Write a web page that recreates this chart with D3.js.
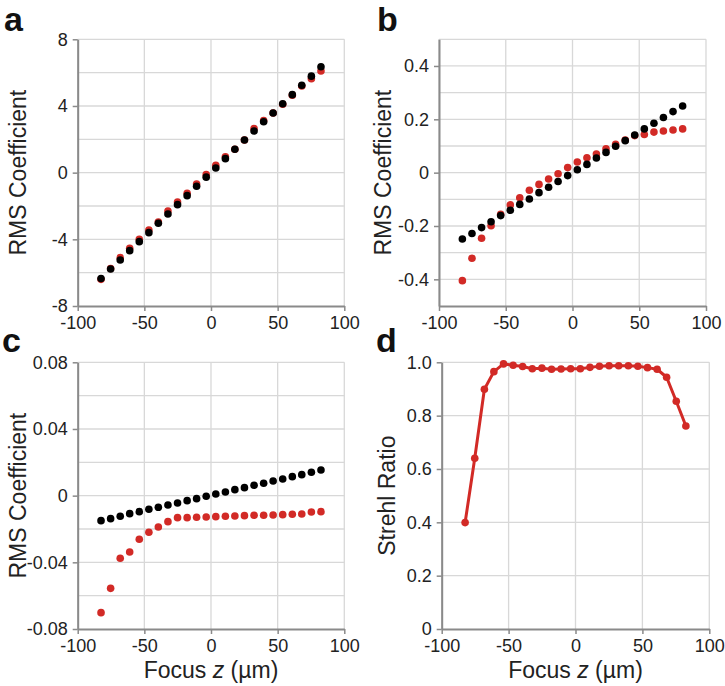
<!DOCTYPE html>
<html><head><meta charset="utf-8">
<script src="https://cdn.jsdelivr.net/npm/d3@7"></script>
<style>
html,body{margin:0;padding:0;background:#fff;}
svg{display:block;font-family:"Liberation Sans",Arial,Helvetica,sans-serif;}
</style></head>
<body>
<svg id="chart" width="725" height="686"></svg>
<script>
// ---- data ----
const focusZ = [-82.5,-75.3,-68.1,-61.0,-53.8,-46.6,-39.5,-32.3,-25.1,-17.9,-10.8,-3.6,3.6,10.8,17.9,25.1,32.3,39.5,46.6,53.8,61.0,68.1,75.3,82.5];
const aBlack = [-6.35,-5.78,-5.24,-4.68,-4.14,-3.6,-3.04,-2.48,-1.92,-1.38,-0.82,-0.27,0.28,0.84,1.4,1.96,2.5,3.05,3.58,4.13,4.68,5.24,5.79,6.35];
const aRed   = [-6.4,-5.75,-5.1,-4.54,-4.0,-3.44,-2.96,-2.3,-1.76,-1.24,-0.68,-0.12,0.44,0.95,1.4,1.96,2.64,3.12,3.58,4.1,4.65,5.2,5.64,6.1];
const bBlack = [-0.249,-0.228,-0.206,-0.184,-0.161,-0.141,-0.119,-0.099,-0.075,-0.055,-0.033,-0.011,0.011,0.031,0.055,0.076,0.099,0.12,0.141,0.164,0.185,0.207,0.229,0.25];
const bRed   = [-0.405,-0.321,-0.246,-0.199,-0.156,-0.121,-0.094,-0.066,-0.044,-0.024,-0.004,0.019,0.04,0.056,0.07,0.089,0.106,0.122,0.139,0.143,0.152,0.156,0.16,0.164];
const cBlack = [-0.015,-0.0138,-0.0124,-0.0108,-0.0096,-0.0082,-0.007,-0.0056,-0.0044,-0.003,-0.0018,-0.0004,0.001,0.0022,0.0036,0.0048,0.0062,0.0074,0.0088,0.01,0.0114,0.0126,0.014,0.0154];
const cRed   = [-0.0702,-0.0556,-0.0376,-0.0338,-0.0262,-0.022,-0.0188,-0.0156,-0.0132,-0.0132,-0.013,-0.0128,-0.0126,-0.0124,-0.0122,-0.012,-0.0118,-0.0118,-0.0116,-0.0114,-0.0112,-0.011,-0.0098,-0.0096];
const dStrehl = [0.399,0.64,0.899,0.965,0.994,0.989,0.984,0.976,0.978,0.974,0.975,0.976,0.976,0.981,0.985,0.987,0.987,0.987,0.985,0.98,0.974,0.944,0.854,0.761];

const xTicks = [-100,-50,0,50,100];
const aTicks = [-8,-4,0,4,8];
const bTicks = [-0.4,-0.2,0,0.2,0.4];
const cTicks = [-0.08,-0.04,0,0.04,0.08];
const dTicks = [0,0.2,0.4,0.6,0.8,1.0];
const aTickLabels = ["-8","-4","0","4","8"];
const bTickLabels = ["-0.4","-0.2","0","0.2","0.4"];
const cTickLabels = ["-0.08","-0.04","0","0.04","0.08"];
const dTickLabels = ["0","0.2","0.4","0.6","0.8","1.0"];

const RED = "#d22a26", BLACK = "#000";

const svg = d3.select("#chart");

function panel(o){
  const g = svg.append("g");
  const x = d3.scaleLinear().domain([-100,100]).range([o.x0,o.x1]);
  const y = d3.scaleLinear().domain(o.ydom).range([o.y1,o.y0]);
  // grid
  g.append("g").selectAll("line").data(xTicks).join("line")
    .attr("x1",d=>x(d)).attr("x2",d=>x(d)).attr("y1",o.y0).attr("y2",o.y1)
    .attr("stroke","#d8d8d8").attr("stroke-width",1.3);
  g.append("g").selectAll("line").data(o.grid).join("line")
    .attr("x1",o.x0).attr("x2",o.x1).attr("y1",d=>y(d)).attr("y2",d=>y(d))
    .attr("stroke","#d8d8d8").attr("stroke-width",1.3);
  // axes
  const xa = g.append("g").attr("transform",`translate(0,${o.y1})`)
    .call(d3.axisBottom(x).tickValues(xTicks).tickSizeInner(5).tickSizeOuter(0).tickPadding(5).tickFormat(d=>String(d)));
  const ya = g.append("g").attr("transform",`translate(${o.x0},0)`)
    .call(d3.axisLeft(y).tickValues(o.ticks).tickSizeInner(5).tickSizeOuter(0).tickPadding(5).tickFormat((d,i)=>o.labels[i]));
  [xa,ya].forEach(a=>{
    a.select(".domain").attr("stroke","#8a8a8a").attr("stroke-width",2);
    a.selectAll(".tick line").attr("stroke","#8a8a8a").attr("stroke-width",1.5);
    a.selectAll(".tick text").attr("fill","#222").style("font-size","18px").style("font-family","'Liberation Sans',Arial,sans-serif");
  });
  // y title
  g.append("text").attr("transform",`translate(${o.ytx},${(o.y0+o.y1)/2}) rotate(-90)`)
    .attr("text-anchor","middle").attr("fill","#222").style("font-size","23px").text(o.ytitle);
  if(o.xtitle){
    const t = g.append("text").attr("x",(o.x0+o.x1)/2).attr("y",o.y1+49).attr("text-anchor","middle")
      .attr("fill","#222").style("font-size","23px");
    t.append("tspan").text("Focus ");
    t.append("tspan").attr("font-style","italic").text("z");
    t.append("tspan").text(" (\u00b5m)");
  }
  g.append("text").attr("x",o.lx).attr("y",o.ly).attr("fill","#111")
    .style("font-size","34px").style("font-weight","bold").text(o.letter);
  return {g,x,y};
}

function dots(p, vals, color){
  p.g.append("g").selectAll("circle").data(vals).join("circle")
    .attr("cx",(d,i)=>p.x(focusZ[i])).attr("cy",d=>p.y(d)).attr("r",3.8).attr("fill",color);
}

const pa = panel({x0:77.7,x1:344.3,y0:39.3,y1:306,ydom:[-8,8],ticks:aTicks,labels:aTickLabels,
  grid:[-6,-4,-2,0,2,4,6,8],ytitle:"RMS Coefficient",ytx:26,letter:"a",lx:4,ly:31});
dots(pa,aRed,RED); dots(pa,aBlack,BLACK);

const pb = panel({x0:439,x1:706,y0:39.3,y1:306,ydom:[-0.5,0.5],ticks:bTicks,labels:bTickLabels,
  grid:[-0.4,-0.3,-0.2,-0.1,0,0.1,0.2,0.3,0.4,0.5],ytitle:"RMS Coefficient",ytx:391,letter:"b",lx:377,ly:31});
dots(pb,bRed,RED); dots(pb,bBlack,BLACK);

const pc = panel({x0:77.7,x1:344.3,y0:362.3,y1:629,ydom:[-0.08,0.08],ticks:cTicks,labels:cTickLabels,
  grid:[-0.06,-0.04,-0.02,0,0.02,0.04,0.06,0.08],ytitle:"RMS Coefficient",ytx:26,letter:"c",lx:2,ly:352,xtitle:true});
dots(pc,cBlack,BLACK); dots(pc,cRed,RED);

const pd = panel({x0:441.7,x1:709.3,y0:362.3,y1:629,ydom:[0,1],ticks:dTicks,labels:dTickLabels,
  grid:[0.2,0.4,0.6,0.8,1.0],ytitle:"Strehl Ratio",ytx:395,letter:"d",lx:376,ly:352,xtitle:true});
pd.g.append("path").datum(dStrehl)
  .attr("d",d3.line().x((d,i)=>pd.x(focusZ[i])).y(d=>pd.y(d)))
  .attr("fill","none").attr("stroke",RED).attr("stroke-width",3).attr("stroke-linejoin","round");
dots(pd,dStrehl,RED);
</script>
</body></html>
